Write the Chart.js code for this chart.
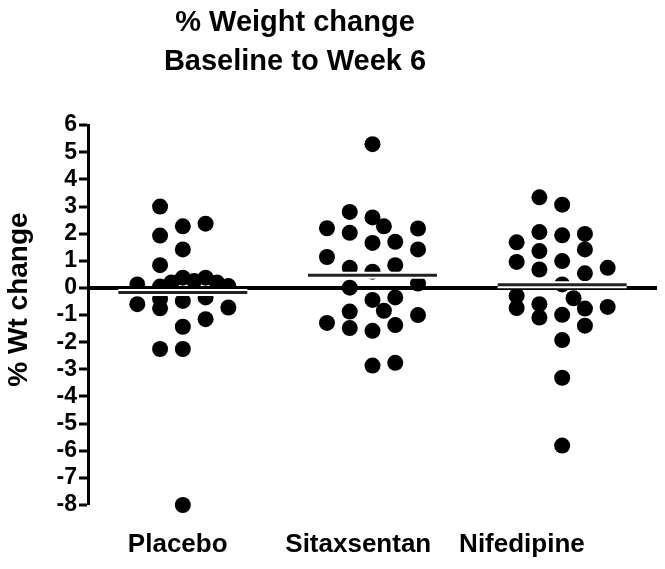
<!DOCTYPE html>
<html>
<head>
<meta charset="utf-8">
<script src="https://cdn.jsdelivr.net/npm/chart.js@4.4.1/dist/chart.umd.min.js"></script>
<style>
  html, body { margin: 0; padding: 0; background: #fff; }
  #wrap { width: 665px; height: 569px; }
</style>
</head>
<body>
<div id="wrap"><canvas id="chart1"></canvas></div>
<script>
// groups along the x axis
const groupNames = ['Placebo', 'Sitaxsentan', 'Nifedipine'];

// % weight change per subject; *Cols = beeswarm column of each dot
const placeboVals = [3.0, 2.27, 2.37, 1.93, 1.42, 0.84, 0.13, -0.6, 0.05, -0.4, -0.75, 0.2, 0.38,
                     -0.48, 0.26, 0.38, -0.35, 0.2, 0.07, -0.72, -1.43, -1.15, -2.25, -2.25, -8.0];
const placeboCols = [-2, 0, 2, -2, 0, -2, -4, -4, -2, -2, -2, -1, 0,
                     0, 1, 2, 2, 3, 4, 4, 0, 2, -2, 0, 0];

const sitaxVals = [5.3, 2.8, 2.6, 2.27, 2.2, 2.03, 2.19, 1.66, 1.7, 1.42, 1.14, 0.74, 0.6, 0.84,
                   0.16, 0.01, -0.44, -0.35, -0.84, -0.87, -1.29, -1.0, -1.48, -1.58, -1.37, -2.86, -2.76];
const sitaxCols = [0, -2, 0, 1, -4, -2, 4, 0, 2, 4, -4, -2, 0, 2,
                   4, -2, 0, 2, 1, -2, -4, 4, -2, 0, 2, 0, 2];

const nifedVals = [3.34, 3.07, 2.06, 1.94, 1.99, 1.68, 1.36, 1.42, 0.96, 0.99, 0.68, 0.54, 0.74,
                   0.13, -0.29, -0.38, -0.74, -0.6, -1.09, -0.99, -0.76, -0.70, -1.39, -1.92, -3.31, -5.81];
const nifedCols = [-2, 0, -2, 0, 2, -4, -2, 2, -4, 0, -2, 2, 4,
                   0, -4, 1, -4, -2, -2, 0, 2, 4, 2, 0, 0, 0];

// group means (horizontal bars)
const groupMeans = [-0.17, 0.47, 0.12];

const colStep = 0.06;      // x units per beeswarm column
const meanHalf = 0.34;     // half width of the mean bar
const labelSpots = [0.973, 1.925, 2.788];  // where the group names sit

const fontFam = "'Liberation Sans', Arial, sans-serif";

const toPoints = (vals, cols, g) => vals.map((v, i) => ({ x: g + cols[i] * colStep, y: v }));

const groups = [[placeboVals, placeboCols], [sitaxVals, sitaxCols], [nifedVals, nifedCols]];

const datasets = [];
groups.forEach((grp, idx) => {
    datasets.push({
        label: groupNames[idx],
        data: toPoints(grp[0], grp[1], idx + 1),
        backgroundColor: '#000',
        borderWidth: 0,
        pointRadius: 8,
        pointHoverRadius: 8,
        clip: false,
        order: 3
    });
});
groupMeans.forEach((m, idx) => {
    const g = idx + 1;
    const seg = [{ x: g - meanHalf, y: m }, { x: g + meanHalf, y: m }];
    // thin white halo under the bar
    datasets.push({ data: seg, showLine: true, borderColor: '#fff', borderWidth: 7, pointRadius: 0, order: 2 });
    datasets.push({ data: seg, showLine: true, borderColor: '#222', borderWidth: 3, pointRadius: 0, order: 1 });
});

// the heading sits a bit left of the canvas centre
const titleShift = {
    id: 'titleShift',
    afterLayout(chart) {
        chart.titleBlock.right -= 75;
    }
};

Chart.defaults.font.family = fontFam;
Chart.defaults.color = '#000';

const ctx = document.getElementById('chart1');
new Chart(ctx, {
    type: 'scatter',
    data: { datasets: datasets },
    plugins: [titleShift],
    options: {
        responsive: true,
        maintainAspectRatio: false,
        animation: false,
        layout: { padding: { left: 0, right: 0, top: 0, bottom: 0 } },
        plugins: {
            legend: { display: false },
            tooltip: { enabled: false },
            title: {
                display: true,
                text: ['% Weight change', 'Baseline to Week 6'],
                color: '#000',
                font: { size: 29, weight: 'bold', lineHeight: 1.33 },
                padding: { top: 4, bottom: 44 }
            }
        },
        scales: {
            x: {
                type: 'linear',
                min: 0.5,
                max: 3.5,
                afterBuildTicks: axis => { axis.ticks = labelSpots.map(v => ({ value: v })); },
                afterFit: scale => { scale.height = 64; },
                ticks: {
                    autoSkip: false,
                    maxRotation: 0,
                    padding: 16,
                    font: { size: 26, weight: 'bold' },
                    callback: (v, i) => groupNames[i]
                },
                grid: { display: false },
                border: { display: false }
            },
            y: {
                min: -8,
                max: 6,
                afterFit: scale => { scale.width = 88; },
                ticks: {
                    stepSize: 1,
                    autoSkip: false,
                    padding: 2,
                    font: { size: 23, weight: 'bold' }
                },
                grid: {
                    color: c => (c.tick && c.tick.value === 0) ? '#000' : 'rgba(0,0,0,0)',
                    lineWidth: c => (c.tick && c.tick.value === 0) ? 4 : 0,
                    tickColor: '#000',
                    tickWidth: 3,
                    tickLength: 9
                },
                border: { display: true, color: '#000', width: 3 },
                title: {
                    display: true,
                    text: '    % Wt change',
                    font: { size: 28, weight: 'bold' },
                    padding: { top: 2, bottom: 0 }
                }
            }
        }
    }
});
</script>
</body>
</html>
